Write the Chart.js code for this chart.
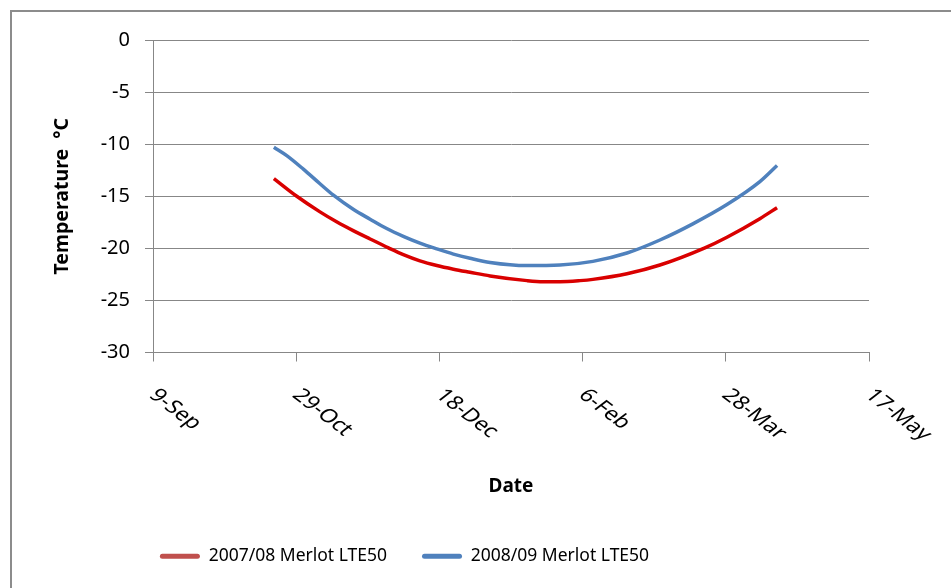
<!DOCTYPE html>
<html>
<head>
<meta charset="utf-8">
<script src="https://cdn.jsdelivr.net/npm/chart.js@4.4.1/dist/chart.umd.min.js"></script>
<style>
    html, body { margin: 0; padding: 0; background: #fff; }
    #wrap { position: relative; width: 951px; height: 588px; overflow: hidden; }
    #frame { position: absolute; left: 10px; top: 10px; width: 960px; height: 600px;
             border-left: 2px solid #8c8c8c; border-top: 2px solid #8c8c8c; }
    #chart { position: absolute; left: 0; top: 0; }
</style>
</head>
<body>
<div id="wrap">
    <div id="frame"></div>
    <canvas id="chart" width="951" height="588"></canvas>
</div>
<script>
// x values are days counted from 9-Sep
const tickLabels = ['9-Sep', '29-Oct', '18-Dec', '6-Feb', '28-Mar', '17-May'];
const seriesNames = ['2007/08 Merlot LTE50', '2008/09 Merlot LTE50'];

const days0708 = [42.2, 50.2, 58.3, 64.1, 69.9, 75.8, 82.2, 87.4, 93.2, 99.1, 104.9, 110.7, 117.7, 130.6, 136.2, 142.1, 149.1, 153.6, 165.5, 177.0, 192.7, 200.4, 211.9, 217.9];
const temp0708 = [-13.3, -15.0, -16.5, -17.45, -18.3, -19.1, -19.95, -20.6, -21.2, -21.65, -22.0, -22.3, -22.65, -23.1, -23.2, -23.2, -23.1, -22.98, -22.44, -21.6, -19.95, -18.93, -17.15, -16.1];

const days0809 = [42.2, 46.7, 52.5, 58.3, 63.0, 69.9, 75.8, 81.6, 87.4, 93.2, 99.1, 104.9, 110.7, 117.7, 130.6, 142.1, 153.6, 165.5, 177.0, 188.5, 200.4, 211.9, 217.9];
const temp0809 = [-10.3, -11.1, -12.4, -13.8, -14.9, -16.25, -17.2, -18.1, -18.85, -19.5, -20.05, -20.55, -20.95, -21.35, -21.65, -21.6, -21.25, -20.45, -19.2, -17.65, -15.8, -13.6, -12.05];

const GRID = '#878787';

function toPoints(xs, ys) {
    return xs.map((x, i) => ({ x: x, y: ys[i] }));
}

Chart.defaults.font.family = '"Noto Sans", sans-serif';
Chart.defaults.color = '#000';

// Excel style date labels: slanted down to the right, starting at the tick
const xLabelPlugin = {
    id: 'xLabels',
    afterDraw(chart) {
        const scale = chart.scales.x;
        const ctx = chart.ctx;
        ctx.save();
        ctx.font = '18.5px "Noto Sans"';
        ctx.fillStyle = '#000';
        ctx.textAlign = 'left';
        ctx.textBaseline = 'alphabetic';
        scale.ticks.forEach(t => {
            const label = tickLabels[Math.round(t.value / 50)];
            if (!label) return;
            const x = scale.getPixelForValue(t.value);
            ctx.save();
            ctx.translate(x - 5, 396);
            ctx.scale(1.3, 1);
            ctx.rotate(Math.PI / 4);
            ctx.fillText(label, 0, 0);
            ctx.restore();
        });
        ctx.restore();
    }
};

// nudge the legend left, like the original
const legendShift = {
    id: 'legendShift',
    afterLayout(chart) {
        chart.legend.left -= 30;
        chart.legend.right -= 30;
    }
};

new Chart(document.getElementById('chart'), {
    type: 'line',
    data: {
        datasets: [{
            label: seriesNames[0],
            data: toPoints(days0708, temp0708),
            borderColor: '#D90000',
            backgroundColor: '#C0504D',
            borderWidth: 3.5,
            pointRadius: 0,
            tension: 0.4,
            cubicInterpolationMode: 'monotone',
            fill: false
        }, {
            label: seriesNames[1],
            data: toPoints(days0809, temp0809),
            borderColor: '#4F81BD',
            backgroundColor: '#4F81BD',
            borderWidth: 3.5,
            pointRadius: 0,
            tension: 0.4,
            cubicInterpolationMode: 'monotone',
            fill: false
        }]
    },
    options: {
        responsive: false,
        animation: false,
        layout: { padding: { top: 40, right: 82, bottom: 13, left: 0 } },
        scales: {
            x: {
                type: 'linear',
                min: 0,
                max: 250,
                ticks: { stepSize: 50, display: false },
                grid: { drawOnChartArea: false, drawTicks: true, tickLength: 9, color: GRID },
                border: { color: GRID, width: 1 },
                title: { display: true, text: 'Date', font: { size: 19, weight: 'bold' }, padding: { top: 0, bottom: 15 } },
                afterFit: s => { s.height = 160; }
            },
            y: {
                min: -30,
                max: 0,
                ticks: { stepSize: 5, font: { size: 20 }, padding: 15 },
                grid: { color: GRID, tickLength: 8 },
                border: { color: GRID, width: 1 },
                title: { display: true, text: 'Temperature  °C', font: { size: 19.5, weight: 'bold' }, padding: { top: 51, bottom: 0 } },
                afterFit: s => { s.width = 153; }
            }
        },
        plugins: {
            legend: {
                position: 'bottom',
                labels: {
                    boxWidth: 40,
                    boxHeight: 5,
                    padding: 35,
                    font: { size: 17.5 },
                    useBorderRadius: true,
                    borderRadius: 2.5,
                    generateLabels(chart) {
                        const items = Chart.defaults.plugins.legend.labels.generateLabels(chart);
                        items.forEach(item => { item.lineWidth = 0; });
                        return items;
                    }
                }
            },
            tooltip: { enabled: false }
        }
    },
    plugins: [xLabelPlugin, legendShift]
});
</script>
</body>
</html>
